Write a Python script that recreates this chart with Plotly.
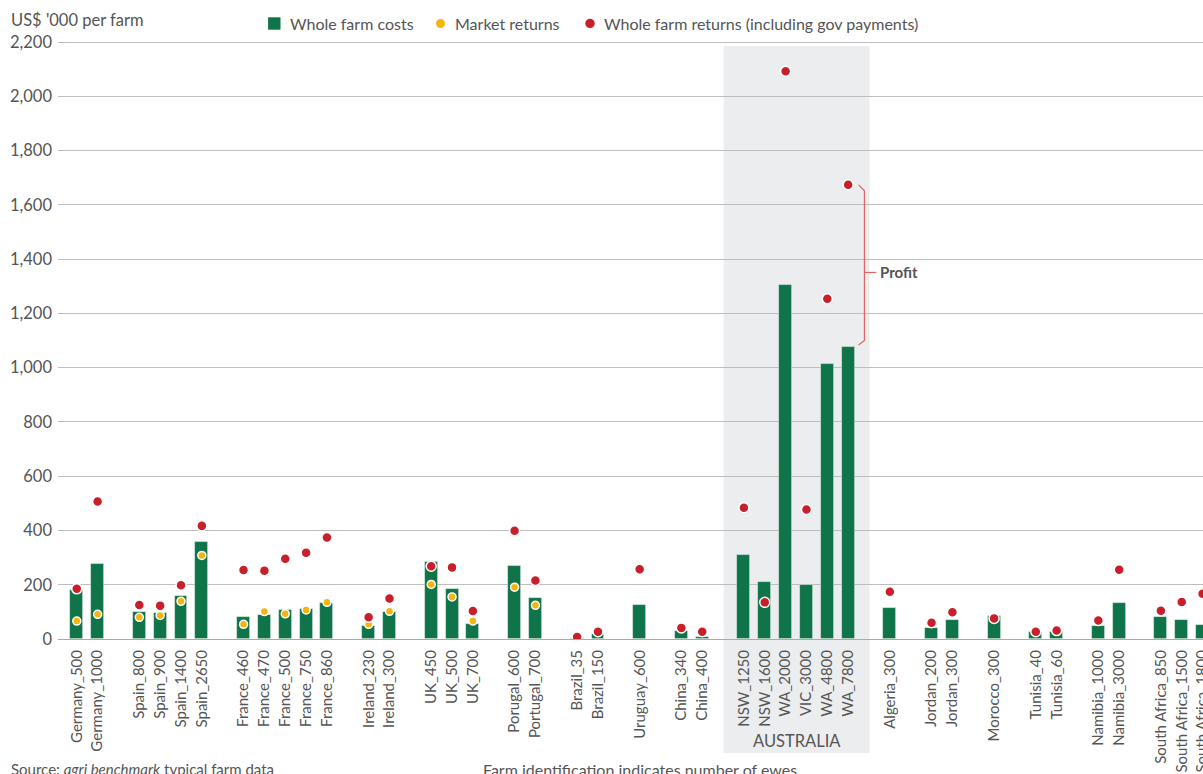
import plotly.graph_objects as go

# Typical farms, grouped by country (one blank slot between groups)
farm_groups = [
    ["Germany_500", "Germany_1000"],
    ["Spain_800", "Spain_900", "Spain_1400", "Spain_2650"],
    ["France_460", "France_470", "France_500", "France_750", "France_860"],
    ["Ireland_230", "Ireland_300"],
    ["UK_450", "UK_500", "UK_700"],
    ["Porugal_600", "Portugal_700"],
    ["Brazil_35", "Brazil_150"],
    ["Uruguay_600"],
    ["China_340", "China_400"],
    ["NSW_1250", "NSW_1600", "WA_2000", "VIC_3000", "WA_4800", "WA_7800"],
    ["Algeria_300"],
    ["Jordan_200", "Jordan_300"],
    ["Morocco_300"],
    ["Tunisia_40", "Tunisia_60"],
    ["Namibia_1000", "Namibia_3000"],
    ["South Africa_850", "South Africa_1500", "South Africa_1800"],
]
highlight_group = 9
highlight_label = "AUSTRALIA"

# US$ '000 per farm
whole_farm_costs = [179, 276, 99, 95, 160, 357, 81, 87, 106, 112, 134, 49, 99,
                    285, 186, 57, 268, 151, 3, 18, 125, 28, 6,
                    309, 211, 1305, 198, 1012, 1076,
                    114, 42, 69, 85, 26, 27, 47, 133, 82, 71, 50]
market_returns = [66, 91, 80, 87, 139, 308, 54, 101, 93, 107, 135, 54, 102,
                  201, 155, 66, 191, 124] + [None] * 22
whole_farm_returns = [185, 507, 125, 123, 198, 417, 254, 252, 296, 318, 374, 80, 149,
                      268, 264, 103, 399, 216, 7, 27, 257, 41, 27,
                      484, 135, 2093, 477, 1254, 1674,
                      174, 60, 99, 76, 27, 31, 68, 255, 104, 136, 167]

series_names = ["Whole farm costs", "Market returns",
                "Whole farm returns (including gov payments)"]

y_ticks = list(range(0, 2201, 200))

GREEN = "#0f7449"
YELLOW = "#f6b40e"
RED = "#c7202a"
TEXT = "#555555"
GRID = "#bdbdbd"
FONT = "Lato, 'Open Sans', sans-serif"

W, H = 1203, 774
M_L, M_R, M_T, M_B = 58, 0, 34, 135
PLOT_W = W - M_L - M_R
PLOT_H = H - M_T - M_B

# slot positions along the x axis
farms, pos = [], []
group_span = []
slot = 0
for g in farm_groups:
    start = slot
    for f in g:
        farms.append(f)
        pos.append(slot)
        slot += 1
    group_span.append((start, slot - 1))
    slot += 1

fig = go.Figure()
fig.add_trace(go.Bar(
    x=pos, y=whole_farm_costs, name=series_names[0], width=0.62,
    marker=dict(color=GREEN, line=dict(color="rgba(255,255,255,0.55)", width=0.8)),
))
fig.add_trace(go.Scatter(
    x=pos, y=market_returns, name=series_names[1], mode="markers",
    marker=dict(color=YELLOW, size=8, line=dict(color="white", width=1.5)),
))
fig.add_trace(go.Scatter(
    x=pos, y=whole_farm_returns, name=series_names[2], mode="markers",
    marker=dict(color=RED, size=10, line=dict(color="white", width=1.5)),
))


def paper_x(px):
    return (px - M_L) / PLOT_W


def paper_y(px):
    return (H - M_B - px) / PLOT_H


# legend row across the top
LEG_Y = 23.5
legend_items = [
    ("square", GREEN, 274.3, 12.4, 288),
    ("circle", YELLOW, 440.5, 9, 452.5),
    ("circle", RED, 590, 9.5, 602),
]
for (kind, color, cx, size, tx), name in zip(legend_items, series_names):
    fig.add_shape(type="rect" if kind == "square" else "circle",
                  xref="paper", yref="paper", xsizemode="pixel", ysizemode="pixel",
                  xanchor=paper_x(cx), yanchor=paper_y(LEG_Y),
                  x0=-size / 2, x1=size / 2, y0=-size / 2, y1=size / 2,
                  fillcolor=color, line_width=0)
    fig.add_annotation(x=paper_x(tx), y=paper_y(LEG_Y), xref="paper", yref="paper",
                       xanchor="left", yanchor="middle", text=name, showarrow=False,
                       font=dict(size=16, color=TEXT, family=FONT))

# shaded country block
a0, a1 = group_span[highlight_group]
fig.add_shape(type="rect", xref="x", yref="paper",
              x0=a0 - 0.97, x1=a1 + 1.03, y0=paper_y(753), y1=paper_y(46),
              fillcolor="#ecedef", line_width=0, layer="below")
fig.add_annotation(x=(a0 + a1) / 2 + 0.03, y=paper_y(741), xref="x", yref="paper",
                   text=highlight_label, showarrow=False, yanchor="middle",
                   font=dict(size=16.5, color=TEXT, family=FONT))

# profit bracket on the largest farm
k = pos.index(group_span[highlight_group][1])
xb = pos[k]
top_v = whole_farm_returns[k]
bot_v = whole_farm_costs[k]
bx0, bx1 = xb + 0.5, xb + 0.78
path = (f"M {bx0},{top_v} L {bx1},{top_v - 22} L {bx1},{bot_v + 24} L {bx0},{bot_v + 8}")
fig.add_shape(type="path", xref="x", yref="y", path=path,
              line=dict(color="#e06363", width=1.2))
mid_v = (top_v - 22 + bot_v + 24) / 2 - 25
fig.add_shape(type="line", xref="x", yref="y", x0=bx1, x1=xb + 1.35, y0=mid_v, y1=mid_v,
              line=dict(color="#e06363", width=1.2))
fig.add_annotation(x=xb + 1.45, y=mid_v, xref="x", yref="y", text="<b>Profit</b>",
                   showarrow=False, xanchor="left",
                   font=dict(size=15, color=TEXT, family=FONT))

# axis title and notes
fig.add_annotation(x=paper_x(9), y=paper_y(20), xref="paper", yref="paper",
                   xanchor="left", yanchor="middle",
                   text="US$ '000 per farm", showarrow=False,
                   font=dict(size=16.5, color=TEXT, family=FONT))
fig.add_annotation(x=paper_x(9), y=paper_y(758), xref="paper",
                   yref="paper", xanchor="left", yanchor="top",
                   text="Source: <i>agri benchmark</i> typical farm data", showarrow=False,
                   font=dict(size=15, color=TEXT, family=FONT))
fig.add_annotation(x=paper_x(481), y=paper_y(758), xref="paper",
                   yref="paper", xanchor="left", yanchor="top",
                   text="Farm identification indicates number of ewes", showarrow=False,
                   font=dict(size=16, color=TEXT, family=FONT))

fig.update_layout(
    width=W, height=H,
    margin=dict(l=M_L, r=M_R, t=M_T, b=M_B, autoexpand=False),
    plot_bgcolor="white", paper_bgcolor="white",
    font=dict(family=FONT, color=TEXT, size=16),
    bargap=0,
    showlegend=False,
    xaxis=dict(range=[-0.9, pos[-1] + 0.02], tickmode="array", tickvals=pos,
               ticktext=farms, tickangle=-90, showgrid=False, zeroline=False,
               showline=False, ticks="", ticklabelstandoff=7, automargin=False,
               ticklabeloverflow="allow",
               tickfont=dict(size=15, color=TEXT, family=FONT), fixedrange=True),
    yaxis=dict(range=[0, 2230], tickmode="array", tickvals=y_ticks,
               ticktext=[f"{v:,}" for v in y_ticks], showgrid=True, gridcolor=GRID,
               gridwidth=1, zeroline=True, zerolinecolor="#aaaaaa", zerolinewidth=1.2,
               showline=False, ticks="", ticklabelstandoff=5, automargin=False,
               tickfont=dict(size=16.5, color=TEXT, family=FONT), fixedrange=True),
)

fig.write_html("out.html", config={"displayModeBar": False})
